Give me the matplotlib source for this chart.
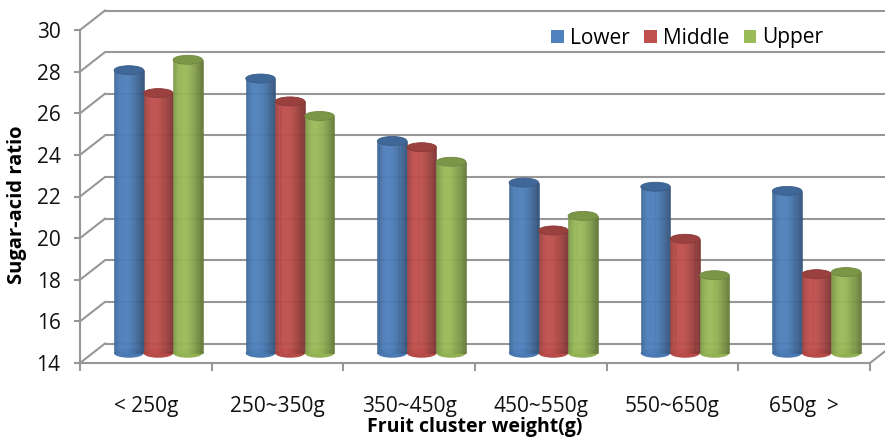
import numpy as np
import matplotlib
matplotlib.use("Agg")
import matplotlib.pyplot as plt
from matplotlib.transforms import Affine2D
from matplotlib.patches import Ellipse, Patch

# ---- data ----
categories = ["< 250g", "250~350g", "350~450g", "450~550g", "550~650g", "650g  >"]
series_names = ["Lower", "Middle", "Upper"]
lower = [27.6, 27.2, 24.2, 22.2, 22.0, 21.8]
middle = [26.5, 26.1, 23.9, 19.9, 19.5, 17.8]
upper = [28.1, 25.4, 23.2, 20.6, 17.75, 17.9]
y_ticks = [14, 16, 18, 20, 22, 24, 26, 28, 30]

series_values = [lower, middle, upper]
series_colors = ["#4F81BD", "#C0504D", "#9BBB59"]

plt.rcParams["font.family"] = ["Open Sans", "DejaVu Sans"]

W, H = 885, 438
fig = plt.figure(figsize=(W / 100, H / 100), dpi=100)
L, R, T, B = 80, 870, 30, 363
ax = fig.add_axes([L / W, (H - B) / H, (R - L) / W, (B - T) / H])
ax.set_xlim(0, len(categories))
ax.set_ylim(y_ticks[0], y_ticks[-1])
ax.set_autoscale_on(False)

ppx = (R - L) / len(categories)
ppy = (B - T) / (y_ticks[-1] - y_ticks[0])

gc = "#979797"
glw = 1.5
depth_dx, depth_dy = 25, 19.5
mid = ax.transData + Affine2D().translate(depth_dx / 2, depth_dy / 2)
back = ax.transData + Affine2D().translate(depth_dx, depth_dy)

# back wall + side wall grid
for y in y_ticks:
    ax.plot([0, len(categories)], [y, y], transform=back, color=gc, lw=glw,
            clip_on=False, zorder=1, solid_capstyle="butt")
    ax.plot([0, depth_dx / ppx], [y, y + depth_dy / ppy], color=gc, lw=glw,
            clip_on=False, zorder=1)
ax.plot([len(categories), len(categories) + depth_dx / ppx],
        [y_ticks[0], y_ticks[0] + depth_dy / ppy], color=gc, lw=glw,
        clip_on=False, zorder=1)


def shade(color, t):
    c = np.array(matplotlib.colors.to_rgb(color))
    f = 0.76 + 0.28 * np.sin(np.pi * t ** 0.75) - 0.12 * t
    if f >= 1:
        return c + (1 - c) * (f - 1) * 0.8
    return c * f


bw = 0.224
offs = [-bw, 0, bw]
eh = 9 / ppy
nstrip = 28
for si, (vals, col) in enumerate(zip(series_values, series_colors)):
    base = np.array(matplotlib.colors.to_rgb(col))
    for j, v in enumerate(vals):
        xc = j + 0.5 + offs[si]
        z = 3 + j * 3 + si
        ax.add_patch(Ellipse((xc, y_ticks[0]), bw, eh, transform=mid,
                             facecolor=shade(col, 0.55), edgecolor="none",
                             zorder=z, clip_on=False))
        sw = bw / nstrip
        xs = xc - bw / 2 + (np.arange(nstrip) + 0.5) * sw
        cols = [shade(col, (k + 0.5) / nstrip) for k in range(nstrip)]
        ax.bar(xs, [v - y_ticks[0]] * nstrip, width=sw, bottom=y_ticks[0],
               color=cols, edgecolor=cols, linewidth=0.4, transform=mid,
               zorder=z, clip_on=False)
        ax.add_patch(Ellipse((xc, v), bw, eh, transform=mid,
                             facecolor=base * 0.8, edgecolor=base * 0.72,
                             lw=0.6, zorder=z + 0.5, clip_on=False))

# axes styling
for s in ["top", "right"]:
    ax.spines[s].set_visible(False)
for s in ["left", "bottom"]:
    ax.spines[s].set_color(gc)
    ax.spines[s].set_linewidth(glw)
    ax.spines[s].set_zorder(2)
ax.patch.set_visible(False)

ax.set_yticks(y_ticks)
ax.set_yticklabels([str(t) for t in y_ticks])
ax.tick_params(axis="y", length=4, width=glw, color=gc, pad=10, labelsize=15,
               labelcolor="#111111")
ax.set_xticks(range(len(categories) + 1))
ax.set_xticklabels([])
ax.set_xticks(np.arange(len(categories)) + 0.5, minor=True)
ax.set_xticklabels(categories, minor=True)
ax.tick_params(axis="x", which="major", length=6, width=glw, color=gc)
ax.tick_params(axis="x", which="minor", length=0, pad=24, labelsize=15,
               labelcolor="#111111")

fig.text(475 / W, 1 - 427 / H, "Fruit cluster weight(g)", ha="center",
         va="center", fontsize=14, fontweight="bold")
fig.text(17 / W, 1 - 205 / H, "Sugar-acid ratio", ha="center", va="center",
         rotation=90, fontsize=14.5, fontweight="bold")

handles = [Patch(facecolor=c, edgecolor="none") for c in series_colors]
fig.legend(handles, series_names, loc="center left",
           bbox_to_anchor=(551 / W, 1 - 38 / H), ncol=3, frameon=False,
           fontsize=15, handlelength=0.6, handleheight=0.6,
           handletextpad=0.3, columnspacing=0.7, borderpad=0,
           borderaxespad=0)

fig.savefig("out.png", dpi=100)
